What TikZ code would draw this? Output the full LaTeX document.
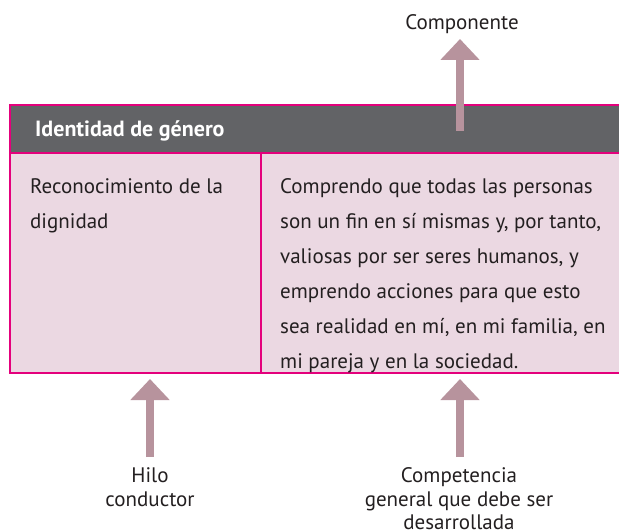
\documentclass[tikz,border=0pt]{standalone}
\usepackage{fontspec}
\setmainfont{PT Sans}
\usetikzlibrary{arrows.meta}
\definecolor{mag}{HTML}{E4007C}
\definecolor{hdr}{HTML}{626366}
\definecolor{cellpink}{HTML}{EBD8E2}
\definecolor{arrcol}{HTML}{B7939D}
\definecolor{txt}{HTML}{231F20}
\tikzset{
  border/.style={draw=mag, line width=2pt},
  bodytext/.style={anchor=north west, inner sep=0pt, text=txt, align=left, font=\fontsize{21}{35}\selectfont},
  hdrtext/.style={anchor=base west, inner sep=0pt, text=white, font=\fontsize{22}{26}\selectfont\bfseries},
  lbltext/.style={anchor=north, inner sep=0pt, text=txt, align=center, font=\fontsize{21}{23.5}\selectfont},
}
\tikzset{
  fatarrow/.style={draw=arrcol, line width=8pt, -{Triangle[width=38pt,length=21pt]}},
}
\begin{document}
\begin{tikzpicture}[x=1pt,y=-1pt]
\useasboundingbox (0,0) rectangle (619,532);
% table fills
\fill[hdr] (10,105) rectangle (619,153);
\fill[cellpink] (10,153) rectangle (619,373);
% borders
\draw[border] (619,105) -- (10,105) -- (10,373) -- (619,373);
\draw[border] (10,153) -- (619,153);
\draw[border] (261,153) -- (261,373);
% texts
\node[hdrtext] (hdr) at (35,137) {Identidad de género};
\node[bodytext] (hilo) at (30,169) {\strut Reconocimiento de la\\dignidad};
\node[bodytext] (comp) at (280,169) {\strut Comprendo que todas las personas\\son un fin en sí mismas y, por tanto,\\valiosas por ser seres humanos, y\\emprendo acciones para que esto\\sea realidad en mí, en mi familia, en\\mi pareja y en la sociedad.};
% labels
\node[lbltext, anchor=base] (lcomponente) at (462,30) {Componente};
\node[lbltext] (lhilo) at (150,466) {\strut Hilo\\conductor};
\node[lbltext] (lcompetencia) at (459,466) {\strut Competencia\\general que debe ser\\desarrollada};
% arrows
\coordinate (a1s) at (460,131);
\coordinate (a1e) at (460,39);
\coordinate (a2s) at (150,457);
\coordinate (a2e) at (150,379);
\coordinate (a3s) at (460,457);
\coordinate (a3e) at (460,379);
\draw[fatarrow] (a1s) -- (a1e);
\draw[fatarrow] (a2s) -- (a2e);
\draw[fatarrow] (a3s) -- (a3e);
\end{tikzpicture}
\end{document}
